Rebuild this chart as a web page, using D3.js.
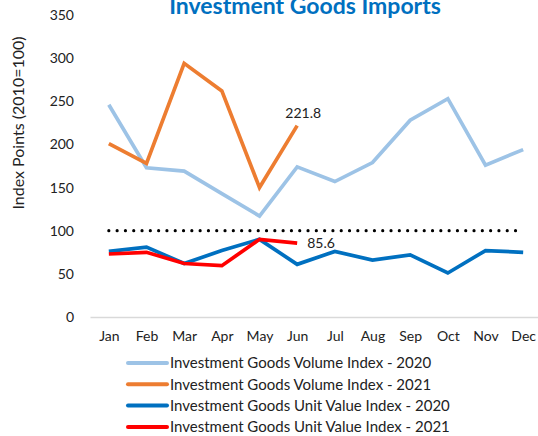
<!DOCTYPE html>
<html>
<head>
  <meta charset="utf-8">
  <title>Investment Goods Imports</title>
  <script src="https://d3js.org/d3.v7.min.js"></script>
  <style>
    body { margin: 0; background: #fff; }
    text { font-family: Lato, "Open Sans", sans-serif; fill: #222; }
  </style>
</head>
<body>
  <div id="chart"></div>
  <script>
    // Months on the x axis
    var months = ['Jan','Feb','Mar','Apr','May','Jun','Jul','Aug','Sep','Oct','Nov','Dec'];

    // Series values
    var volume2020 = [246, 173, 169, 143, 117, 174, 157, 179, 228, 253, 176, 194];
    var volume2021 = [201, 178, 294, 262, 150, 221.8];
    var unitValue2020 = [76, 81, 62, 77, 90, 61, 76, 66, 72, 51, 77, 75];
    var unitValue2021 = [73, 75, 62, 59.5, 90, 85.6];
    var baseLine = [100, 100, 100, 100, 100, 100, 100, 100, 100, 100, 100, 100];

    var yTicks = [0, 50, 100, 150, 200, 250, 300, 350];

    var series = [
      { name: 'Investment Goods Volume Index - 2020', values: volume2020, color: '#9dc3e6' },
      { name: 'Investment Goods Volume Index - 2021', values: volume2021, color: '#ed7d31' },
      { name: 'Investment Goods Unit Value Index - 2020', values: unitValue2020, color: '#0070c0' },
      { name: 'Investment Goods Unit Value Index - 2021', values: unitValue2021, color: '#ff0000' }
    ];

    var width = 538, height = 436;

    var svg = d3.select('#chart').append('svg')
        .attr('width', width)
        .attr('height', height);

    var x = d3.scalePoint().domain(months).range([90, 542]).padding(0.5);
    var y = d3.scaleLinear().domain([0, 350]).range([317, 15]);

    // Title (its top is cut off, as in the original)
    svg.append('text')
        .attr('x', 305)
        .attr('y', 14)
        .attr('text-anchor', 'middle')
        .style('font-size', '23px')
        .style('font-weight', 'bold')
        .style('fill', '#0070c0')
        .text('Investment Goods Imports');

    // Y axis
    var yAxis = svg.append('g')
        .attr('transform', 'translate(78,0)')
        .call(d3.axisLeft(y).tickValues(yTicks).tickSize(0).tickPadding(4));
    yAxis.select('.domain').remove();
    yAxis.selectAll('text').style('font-size', '14px').style('fill', '#222');

    // X axis
    var xAxis = svg.append('g')
        .attr('transform', 'translate(0,317)')
        .call(d3.axisBottom(x).tickSize(0).tickPadding(14));
    xAxis.select('.domain').attr('stroke', '#d9d9d9').attr('stroke-width', 1.5);
    xAxis.selectAll('text').style('font-size', '14px').style('fill', '#222');

    // Y axis title
    svg.append('text')
        .attr('transform', 'translate(24,123) rotate(-90)')
        .attr('text-anchor', 'middle')
        .style('font-size', '16px')
        .text('Index Points (2010=100)');

    var line = d3.line()
        .x(function(d, i) { return x(months[i]); })
        .y(function(d) { return y(d); });

    // Dotted 100 line
    svg.append('path')
        .datum(baseLine)
        .attr('d', line)
        .attr('fill', 'none')
        .attr('stroke', '#000')
        .attr('stroke-width', 3.2)
        .attr('stroke-linecap', 'round')
        .attr('stroke-dasharray', '0 8.3');

    series.forEach(function(s) {
      svg.append('path')
          .datum(s.values)
          .attr('d', line)
          .attr('fill', 'none')
          .attr('stroke', s.color)
          .attr('stroke-width', 3.7)
          .attr('stroke-linejoin', 'miter');
    });

    // Data labels on the last 2021 points
    svg.append('text')
        .attr('x', x('Jun') + 6)
        .attr('y', y(221.8) - 8)
        .attr('text-anchor', 'middle')
        .style('font-size', '14px')
        .text('221.8');

    svg.append('text')
        .attr('x', x('Jun') + 10)
        .attr('y', y(85.6))
        .attr('dy', '0.35em')
        .style('font-size', '14px')
        .text('85.6');

    // Legend
    var legend = svg.append('g');
    series.forEach(function(s, i) {
      var ly = 363 + i * 21.3;
      legend.append('line')
          .attr('x1', 128).attr('x2', 167)
          .attr('y1', ly).attr('y2', ly)
          .attr('stroke', s.color)
          .attr('stroke-width', 4)
          .attr('stroke-linecap', 'round');
      legend.append('text')
          .attr('x', 170)
          .attr('y', ly)
          .attr('dy', '0.35em')
          .style('font-size', '15px')
          .text(s.name);
    });
  </script>
</body>
</html>
